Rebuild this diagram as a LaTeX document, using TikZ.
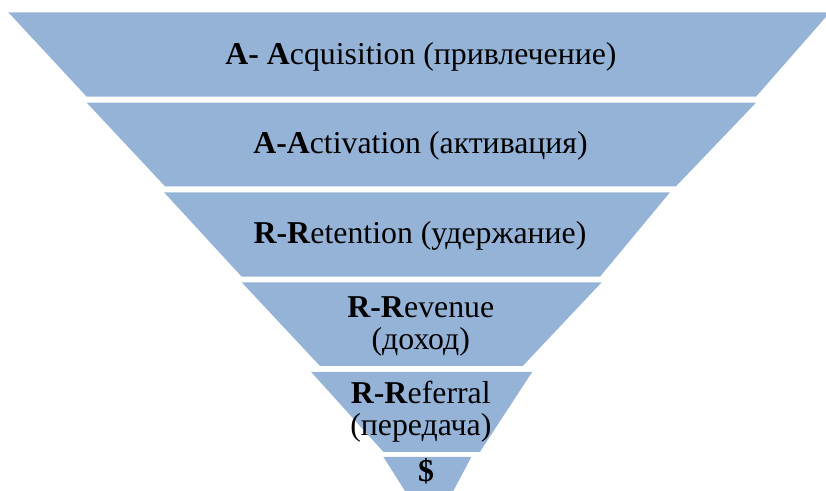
\documentclass[tikz,border=0pt]{standalone}
\usepackage{fontspec}
\setmainfont{Liberation Serif}
\definecolor{funnel}{RGB}{149,179,215}

\begin{document}
\begin{tikzpicture}[x=0.5pt, y=-0.5pt,
	band/.style={fill=funnel},
	lbl/.style={font=\fontsize{15.9}{16}\selectfont, align=center, anchor=base, inner sep=0pt}]
	\useasboundingbox (0,0) rectangle (826,491);
	\clip (0,0) rectangle (826,491);
	% the funnel, one band per stage
	\fill[band] (8.3,12.3) -- (830,12.3) -- (756,96.7) -- (86.7,96.7) -- cycle;
	\fill[band] (86.7,102.7) -- (756,102.7) -- (676,186.3) -- (165,186.3) -- cycle;
	\fill[band] (164,192.3) -- (670,192.3) -- (600,276.7) -- (241.7,276.7) -- cycle;
	\fill[band] (241.7,282.3) -- (601.7,282.3) -- (522.7,366) -- (320,366) -- cycle;
	\fill[band] (311,371.8) -- (532.3,371.8) -- (480,451.8) -- (383.3,451.8) -- cycle;
	\fill[band] (383.3,456.8) -- (471.5,456.8) -- (453.3,491) -- (405,491) -- cycle;
	% stage names (base = last line)
	\node[lbl] (acq) at (421,65) {\textbf{A- A}cquisition (привлечение)};
	\node[lbl] (act) at (420.5,154) {\textbf{A-A}ctivation (активация)};
	\node[lbl] (ret) at (420,244) {\textbf{R-R}etention (удержание)};
	\node[lbl] (rev) at (420.8,350) {\textbf{R-R}evenue\\(доход)};
	\node[lbl] (ref) at (420.8,436) {\textbf{R-R}eferral\\(передача)};
	\node[lbl] (usd) at (426,482) {\textbf{\$}};
\end{tikzpicture}
\end{document}
